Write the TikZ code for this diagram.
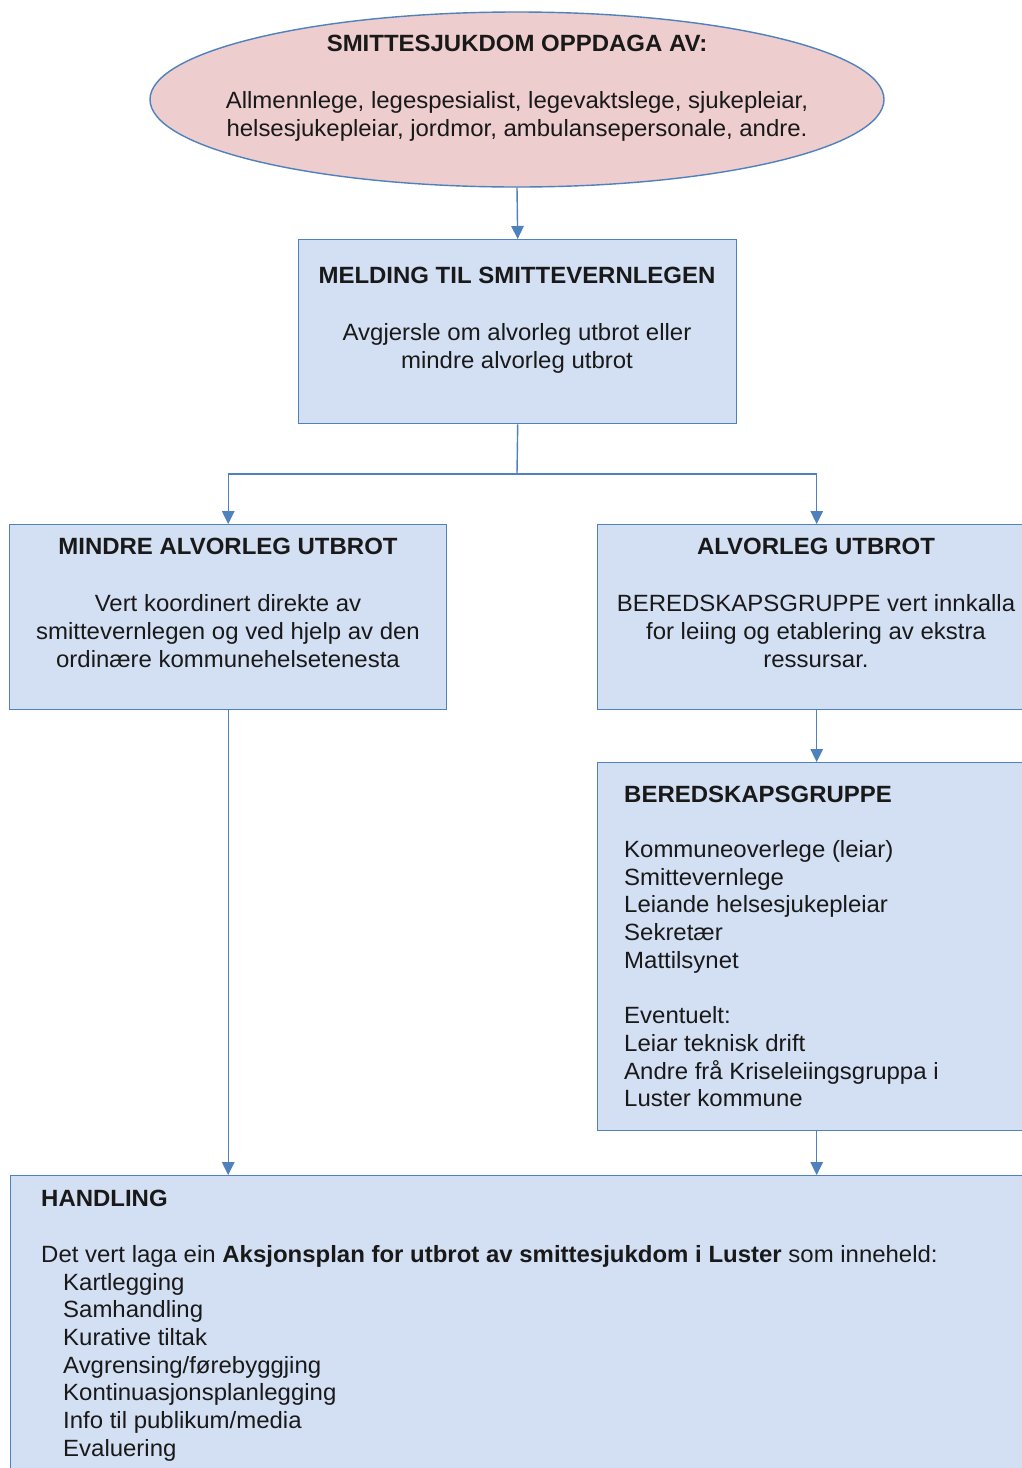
\documentclass[tikz,border=0pt]{standalone}
\usepackage{fontspec}
\setmainfont[FakeStretch=1.02]{Liberation Sans}
\usetikzlibrary{arrows.meta,shapes.geometric}
\definecolor{boxfill}{RGB}{211,223,243}
\definecolor{boxline}{RGB}{79,129,189}
\definecolor{ellfill}{RGB}{237,205,206}
\begin{document}
\begin{tikzpicture}[x=1pt,y=-1pt,
  box/.style={draw=boxline, fill=boxfill, line width=1.4pt, rectangle, inner sep=0pt, anchor=north west},
  txt/.style={inner sep=0pt, font=\fontsize{23.5}{27.7}\selectfont, text=black!90},
  conn/.style={draw=boxline, line width=1.4pt},
  arr/.style={conn, -{Triangle[length=13pt,width=12.5pt]}}]
\useasboundingbox (0,0) rectangle (1022,1468);
\clip (0,0) rectangle (1022,1468);
\fill[white] (0,0) rectangle (1022,1468);

\node[ellipse, draw=boxline, fill=ellfill, line width=1.4pt, inner sep=0pt, minimum width=734pt, minimum height=175pt] (src) at (517,99.5) {};
\node[box, minimum width=438pt, minimum height=184pt] (meld) at (298,239) {};
\node[box, minimum width=437pt, minimum height=185pt] (mindre) at (9,524) {};
\node[box, minimum width=438pt, minimum height=185pt] (alv) at (597,524) {};
\node[box, minimum width=438pt, minimum height=368pt] (bered) at (597,762) {};
\node[box, minimum width=1030pt, minimum height=320pt] (handl) at (10,1175) {};

\node[txt, align=center, anchor=north] (srct) at (517,34.5) {\textbf{SMITTESJUKDOM OPPDAGA AV:}\\[29.5pt]
  Allmennlege, legespesialist, legevaktslege, sjukepleiar,\\
  helsesjukepleiar, jordmor, ambulansepersonale, andre.};
\node[txt, align=center, anchor=north] (meldt) at (517,266.5) {\textbf{MELDING TIL SMITTEVERNLEGEN}\\[29.5pt]
  Avgjersle om alvorleg utbrot eller\\ mindre alvorleg utbrot};
\node[txt, align=center, anchor=north] (mindret) at (228,537.5) {\textbf{MINDRE ALVORLEG UTBROT}\\[30pt]
  Vert koordinert direkte av\\ smittevernlegen og ved hjelp av den\\ ordinære kommunehelsetenesta};
\node[txt, align=center, anchor=north] (alvt) at (816,537.5) {\textbf{ALVORLEG UTBROT}\\[30pt]
  BEREDSKAPSGRUPPE vert innkalla\\ for leiing og etablering av ekstra\\ ressursar.};
\node[txt, align=left, anchor=north west] (beredt) at (624,785.5) {\textbf{BEREDSKAPSGRUPPE}\\[27.7pt]
  Kommuneoverlege (leiar)\\ Smittevernlege\\ Leiande helsesjukepleiar\\ Sekretær\\ Mattilsynet\\[27.7pt]
  Eventuelt:\\ Leiar teknisk drift\\ Andre frå Kriseleiingsgruppa i\\ Luster kommune};
\node[txt, align=left, anchor=north west] (handlt) at (41,1189.5) {\textbf{HANDLING}\\[28.5pt]
  Det vert laga ein \textbf{Aksjonsplan for utbrot av smittesjukdom i Luster} som inneheld:\\
  \hspace*{22pt}Kartlegging\\ \hspace*{22pt}Samhandling\\ \hspace*{22pt}Kurative tiltak\\
  \hspace*{22pt}Avgrensing/førebyggjing\\ \hspace*{22pt}Kontinuasjonsplanlegging\\
  \hspace*{22pt}Info til publikum/media\\ \hspace*{22pt}Evaluering};

\coordinate (split) at (517,474);
\draw[arr] (src.south) -- (meld.north);
\draw[conn] (meld.south) -- (split);
\draw[arr] (split) -| (mindre.north);
\draw[arr] (split) -| (alv.north);
\draw[arr] (alv.south) -- (bered.north);
\draw[arr] (mindre.south) -- (mindre.south |- handl.north);
\draw[arr] (bered.south) -- (bered.south |- handl.north);
\end{tikzpicture}
\end{document}
